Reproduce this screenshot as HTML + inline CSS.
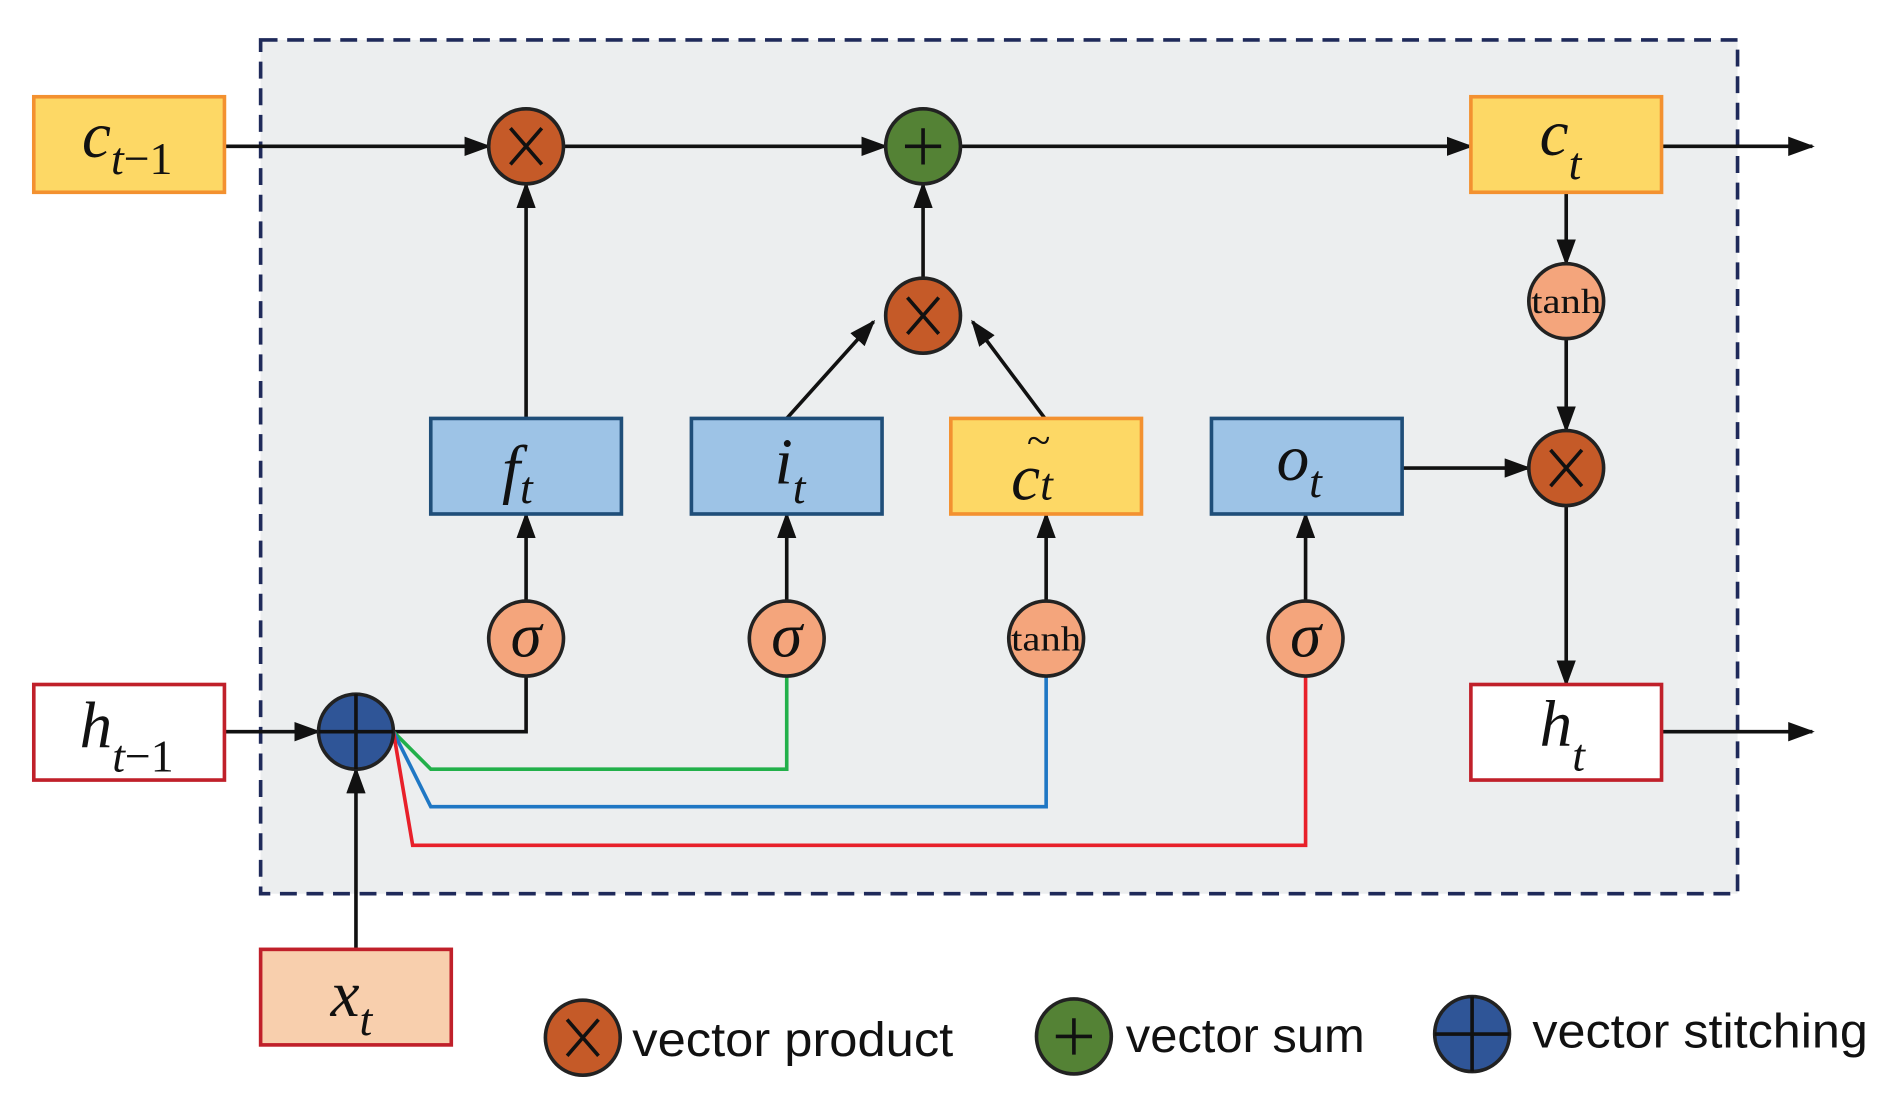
<!DOCTYPE html>
<html><head><meta charset="utf-8"><style>html,body{margin:0;padding:0;background:#fff;overflow:hidden}svg{display:block}</style></head>
<body>
<svg width="1892" height="1109" viewBox="0 0 1568 917" preserveAspectRatio="none" xmlns="http://www.w3.org/2000/svg">
<defs>
<marker id="b" markerWidth="22" markerHeight="16" refX="20" refY="8" orient="auto" markerUnits="userSpaceOnUse"><path d="M0,0 L22,8 L0,16 z" fill="#111"/></marker>
</defs>
<rect x="216" y="33" width="1224" height="706" fill="#eceeef" stroke="#1f2a5a" stroke-width="3" stroke-dasharray="14,8"/>
<g stroke="#111" stroke-width="3" fill="none" marker-end="url(#b)">
<line x1="186" y1="121" x2="405" y2="121"/>
<line x1="467" y1="121" x2="734" y2="121"/>
<line x1="796" y1="121" x2="1219" y2="121"/>
<line x1="1377" y1="121" x2="1502" y2="121"/>
<line x1="436" y1="346" x2="436" y2="152"/>
<line x1="765" y1="230" x2="765" y2="152"/>
<line x1="652" y1="346" x2="724" y2="266"/>
<line x1="866" y1="346" x2="806" y2="266"/>
<line x1="1298" y1="159" x2="1298" y2="218"/>
<line x1="1298" y1="280" x2="1298" y2="356"/>
<line x1="1162" y1="387" x2="1267" y2="387"/>
<line x1="1298" y1="418" x2="1298" y2="566"/>
<line x1="1377" y1="605" x2="1502" y2="605"/>
<line x1="186" y1="605" x2="264" y2="605"/>
<line x1="295" y1="785" x2="295" y2="636"/>
<line x1="436" y1="497" x2="436" y2="425"/>
<line x1="652" y1="497" x2="652" y2="425"/>
<line x1="867" y1="497" x2="867" y2="425"/>
<line x1="1082" y1="497" x2="1082" y2="425"/>
</g>
<polyline points="326,605 436,605 436,559" fill="none" stroke="#111" stroke-width="3"/>
<polyline points="326,605 357,636 652,636 652,559" fill="none" stroke="#22b04a" stroke-width="3"/>
<polyline points="326,605 357,667 867,667 867,559" fill="none" stroke="#1f77c4" stroke-width="3"/>
<polyline points="326,605 342,699 1082,699 1082,559" fill="none" stroke="#e8202a" stroke-width="3"/>
<g stroke-width="3">
<rect x="28" y="80" width="158" height="79" fill="#fdd865" stroke="#f39130"/>
<rect x="1219" y="80" width="158" height="79" fill="#fdd865" stroke="#f39130"/>
<rect x="28" y="566" width="158" height="79" fill="#fff" stroke="#c0202a"/>
<rect x="1219" y="566" width="158" height="79" fill="#fff" stroke="#c0202a"/>
<rect x="216" y="785" width="158" height="79" fill="#f8cfad" stroke="#c0202a"/>
<rect x="357" y="346" width="158" height="79" fill="#9dc3e6" stroke="#1f4e79"/>
<rect x="573" y="346" width="158" height="79" fill="#9dc3e6" stroke="#1f4e79"/>
<rect x="788" y="346" width="158" height="79" fill="#fdd865" stroke="#f39130"/>
<rect x="1004" y="346" width="158" height="79" fill="#9dc3e6" stroke="#1f4e79"/>
</g>
<g stroke="#222" stroke-width="3">
<circle cx="436" cy="121" r="31" fill="#c55a28"/>
<circle cx="765" cy="121" r="31" fill="#548235"/>
<circle cx="765" cy="261" r="31" fill="#c55a28"/>
<circle cx="1298" cy="387" r="31" fill="#c55a28"/>
<circle cx="1298" cy="249" r="31" fill="#f4a57c"/>
<circle cx="436" cy="528" r="31" fill="#f4a57c"/>
<circle cx="652" cy="528" r="31" fill="#f4a57c"/>
<circle cx="867" cy="528" r="31" fill="#f4a57c"/>
<circle cx="1082" cy="528" r="31" fill="#f4a57c"/>
<circle cx="295" cy="605" r="31" fill="#2f5597"/>
<circle cx="483" cy="858" r="31" fill="#c55a28"/>
<circle cx="890" cy="857" r="31" fill="#548235"/>
<circle cx="1220" cy="855" r="31" fill="#2f5597"/>
</g>
<g stroke="#111" stroke-width="3">
<path d="M423,106 L449,136 M449,106 L423,136"/>
<path d="M752,246 L778,276 M778,246 L752,276"/>
<path d="M1285,372 L1311,402 M1311,372 L1285,402"/>
<path d="M470,843 L496,873 M496,843 L470,873"/>
<path d="M765,106 V136 M750,121 H780"/>
<path d="M890,842 V872 M875,857 H905"/>
<path d="M295,574 V636 M264,605 H326"/>
<path d="M1220,824 V886 M1189,855 H1251"/>
</g>
<g font-family="'Liberation Serif',serif" fill="#111">
<text x="436" y="543" font-size="52" text-anchor="middle" font-style="italic">σ</text>
<text x="652" y="543" font-size="52" text-anchor="middle" font-style="italic">σ</text>
<text x="1082" y="543" font-size="52" text-anchor="middle" font-style="italic">σ</text>
<text x="867" y="538" font-size="29" text-anchor="middle" textLength="58" lengthAdjust="spacingAndGlyphs">tanh</text>
<text x="1298" y="259" font-size="29" text-anchor="middle" textLength="58" lengthAdjust="spacingAndGlyphs">tanh</text>
<g font-style="italic" font-size="54">
<text x="68" y="130">c<tspan font-size="38" dy="14">t</tspan><tspan font-size="38" font-style="normal">−1</tspan></text>
<text x="66" y="618">h<tspan font-size="38" dy="20">t</tspan><tspan font-size="38" font-style="normal">−1</tspan></text>
<text x="1276" y="128">c<tspan font-size="38" dy="20">t</tspan></text>
<text x="1276" y="617">h<tspan font-size="38" dy="20">t</tspan></text>
<text x="274" y="840">x<tspan font-size="38" dy="16">t</tspan></text>
<text x="416" y="406">f<tspan font-size="38" dy="10">t</tspan></text>
<text x="642" y="400">i<tspan font-size="38" dy="16">t</tspan></text>
<text x="838" y="413">c<tspan font-size="38" dy="0">t</tspan></text>
<text x="851" y="376" font-size="36" font-style="normal">~</text>
<text x="1058" y="397">o<tspan font-size="38" dy="14">t</tspan></text>
</g>
</g>
<g font-family="'Liberation Sans',sans-serif" font-size="40" fill="#111">
<text x="524" y="873" textLength="266" lengthAdjust="spacingAndGlyphs">vector product</text>
<text x="933" y="870" textLength="198" lengthAdjust="spacingAndGlyphs">vector sum</text>
<text x="1270" y="866" textLength="278" lengthAdjust="spacingAndGlyphs">vector stitching</text>
</g>
</svg>
</body></html>
